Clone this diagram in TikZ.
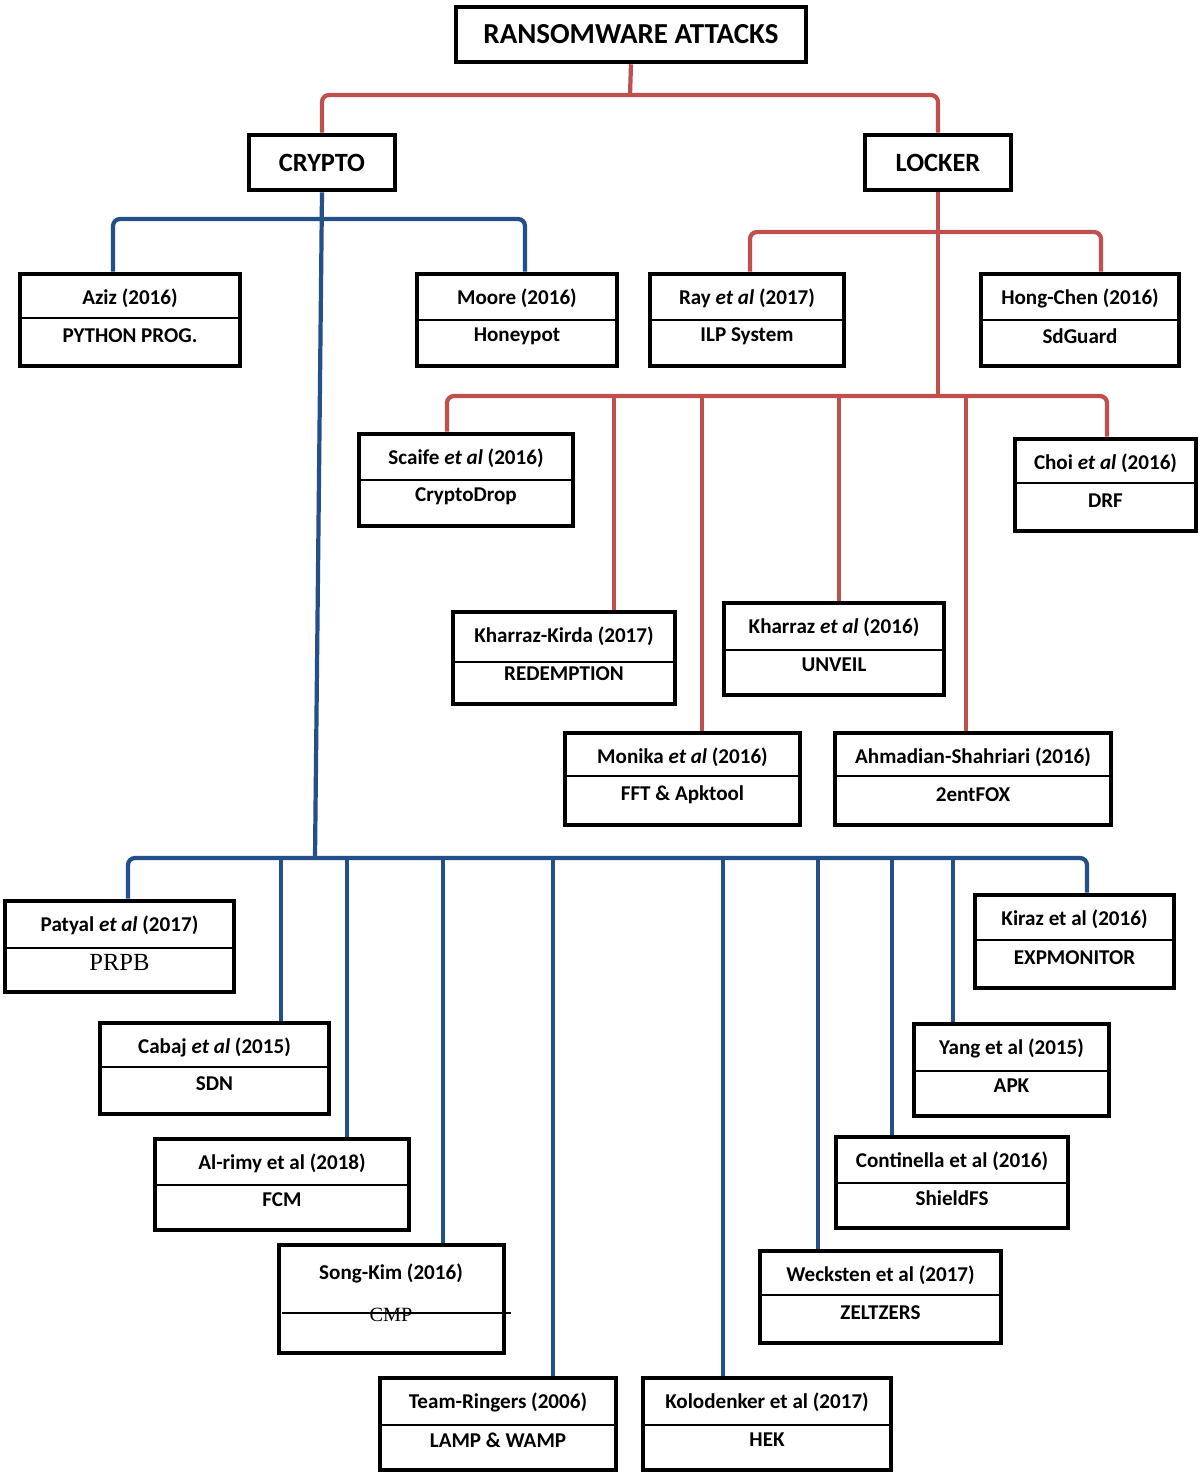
\documentclass[tikz,border=0pt]{standalone}
\usepackage{fontspec}
\setmainfont{Carlito}
\newfontfamily\timesfont{Liberation Serif}
\usetikzlibrary{fit}

\definecolor{lockred}{HTML}{C0504D}
\definecolor{cryptoblue}{HTML}{24508A}

\tikzset{
  headbox/.style={draw, line width=2.6pt, inner sep=0pt, minimum height=1.1cm,
    font=\fontsize{15}{18}\selectfont\bfseries},
  paperbox/.style={draw, line width=2.6pt, inner sep=0pt},
  papertext/.style={inner sep=0pt, font=\fontsize{12}{14}\selectfont\bfseries},
  divider/.style={line width=1.1pt},
  redwire/.style={lockred, line width=2.4pt, rounded corners=4pt},
  bluewire/.style={cryptoblue, line width=2.4pt, rounded corners=4pt},
}

% box of one paper: name, left, top, right, bottom, divider, author, method
\newcommand{\paperentry}[8]{%
  \node[paperbox, fit={({#2+2},{#3+2}) ({#4-2},{#5-2})}] (#1) {};
  \draw[divider] ({#2+2},#6) -- ({#4-2},#6);
  \node[papertext] (#1-top) at ({(#2+#4)/2},{#3+26}) {#7};
  \node[papertext] (#1-bot) at ({(#2+#4)/2},{#5-32}) {#8};
}

\begin{document}
\begin{tikzpicture}[x=0.02cm, y=-0.02cm]
  \useasboundingbox (0,0) rectangle (1200,1474);

  % Heads
  \node[headbox, minimum width=7cm, font=\fontsize{16.5}{19}\selectfont\bfseries] (root) at (631,34.5) {RANSOMWARE ATTACKS};
  \node[headbox, minimum width=2.92cm] (crypto) at (322,162.5) {CRYPTO};
  \node[headbox, minimum width=2.92cm] (locker) at (938,162.5) {LOCKER};

  % Papers
  \paperentry{aziz}{18}{272}{242}{368}{318}{Aziz (2016)}{PYTHON PROG.}
  \paperentry{moore}{415}{272}{619}{368}{320}{Moore (2016)}{Honeypot}
  \paperentry{ray}{648}{272}{846}{368}{320}{Ray \textit{et al} (2017)}{ILP System}
  \paperentry{hongchen}{979}{272}{1181}{368}{320}{Hong-Chen (2016)}{SdGuard}
  \paperentry{scaife}{357}{432}{575}{528}{480}{Scaife \textit{et al} (2016)}{CryptoDrop}
  \paperentry{choi}{1013}{437}{1198}{533}{483}{Choi \textit{et al} (2016)}{DRF}
  \paperentry{kirda}{451}{610}{677}{706}{662}{Kharraz-Kirda (2017)}{REDEMPTION}
  \paperentry{kharraz}{722}{601}{946}{697}{650}{Kharraz \textit{et al} (2016)}{UNVEIL}
  \paperentry{monika}{563}{731}{802}{827}{776}{Monika \textit{et al} (2016)}{FFT \& Apktool}
  \paperentry{ahmadian}{833}{731}{1113}{827}{776}{Ahmadian-Shahriari (2016)}{2entFOX}
  \paperentry{patyal}{3}{899}{236}{994}{948}{Patyal \textit{et al} (2017)}{\timesfont\mdseries\fontsize{14}{16}\selectfont PRPB}
  \paperentry{cabaj}{98}{1021}{331}{1116}{1067}{Cabaj \textit{et al} (2015)}{SDN}
  \paperentry{alrimy}{153}{1137}{411}{1232}{1185}{Al-rimy et al (2018)}{FCM}
  \paperentry{team}{378}{1376}{618}{1472}{1425}{Team-Ringers (2006)}{LAMP \& WAMP}
  \paperentry{kolodenker}{641}{1376}{893}{1472}{1425}{Kolodenker et al (2017)}{HEK}
  \paperentry{wecksten}{758}{1249}{1003}{1345}{1295}{Wecksten et al (2017)}{ZELTZERS}
  \paperentry{continella}{834}{1135}{1070}{1230}{1183}{Continella et al (2016)}{ShieldFS}
  \paperentry{yang}{912}{1022}{1111}{1118}{1071}{Yang et al (2015)}{APK}
  \paperentry{kiraz}{973}{893}{1176}{990}{940}{Kiraz et al (2016)}{EXPMONITOR}

  % Song-Kim, line runs through its method
  \node[paperbox, fit={(279,1245) (504,1353)}] (songkim) {};
  \node[papertext] (songkim-top) at (391,1273) {Song-Kim (2016)};
  \node[papertext, font=\timesfont\fontsize{11.5}{13}\selectfont] (songkim-bot) at (391,1315) {CMP};
  \draw[divider] (282,1313) -- (511,1313);

  % Bus points
  \coordinate (rootbus) at (630,95);
  \coordinate (cryptobus) at (315,858);
  \coordinate (lockbus) at (938,396);
  \coordinate (aziz-drop) at (113,219);
  \coordinate (moore-drop) at (525,219);
  \coordinate (ray-drop) at (750,232);
  \coordinate (hongchen-drop) at (1101,232);
  \coordinate (scaife-drop) at (447,396);
  \coordinate (kirda-drop) at (614,396);
  \coordinate (monika-drop) at (702,396);
  \coordinate (kharraz-drop) at (839,396);
  \coordinate (ahmadian-drop) at (966,396);
  \coordinate (choi-drop) at (1107,396);
  \coordinate (patyal-drop) at (128,858);
  \coordinate (cabaj-drop) at (281,858);
  \coordinate (alrimy-drop) at (347,858);
  \coordinate (songkim-drop) at (443,858);
  \coordinate (team-drop) at (553,858);
  \coordinate (kolodenker-drop) at (723,858);
  \coordinate (wecksten-drop) at (818,858);
  \coordinate (continella-drop) at (892,858);
  \coordinate (yang-drop) at (953,858);
  \coordinate (kiraz-drop) at (1087,858);

  % Lines, locker side
  \draw[redwire] (root.south) -- (rootbus);
  \draw[redwire] (crypto.north) |- (rootbus) -| (locker.north);
  \draw[redwire] (locker.south) -- (lockbus);
  \draw[redwire] (ray-drop |- ray.north) -- (ray-drop) -- (hongchen-drop) -- (hongchen-drop |- hongchen.north);
  \draw[redwire] (scaife-drop |- scaife.north) -- (scaife-drop) -- (choi-drop) -- (choi-drop |- choi.north);
  \foreach \p in {kirda, monika, kharraz, ahmadian}
    \draw[redwire] (\p-drop) -- (\p-drop |- \p.north);

  % Lines, crypto side
  \draw[bluewire] (crypto.south) -- (cryptobus);
  \draw[bluewire] (aziz-drop |- aziz.north) -- (aziz-drop) -- (moore-drop) -- (moore-drop |- moore.north);
  \draw[bluewire] (patyal-drop |- patyal.north) -- (patyal-drop) -- (kiraz-drop) -- (kiraz-drop |- kiraz.north);
  \foreach \p in {cabaj, alrimy, songkim, team, kolodenker, wecksten, continella, yang}
    \draw[bluewire] (\p-drop) -- (\p-drop |- \p.north);

\end{tikzpicture}
\end{document}
